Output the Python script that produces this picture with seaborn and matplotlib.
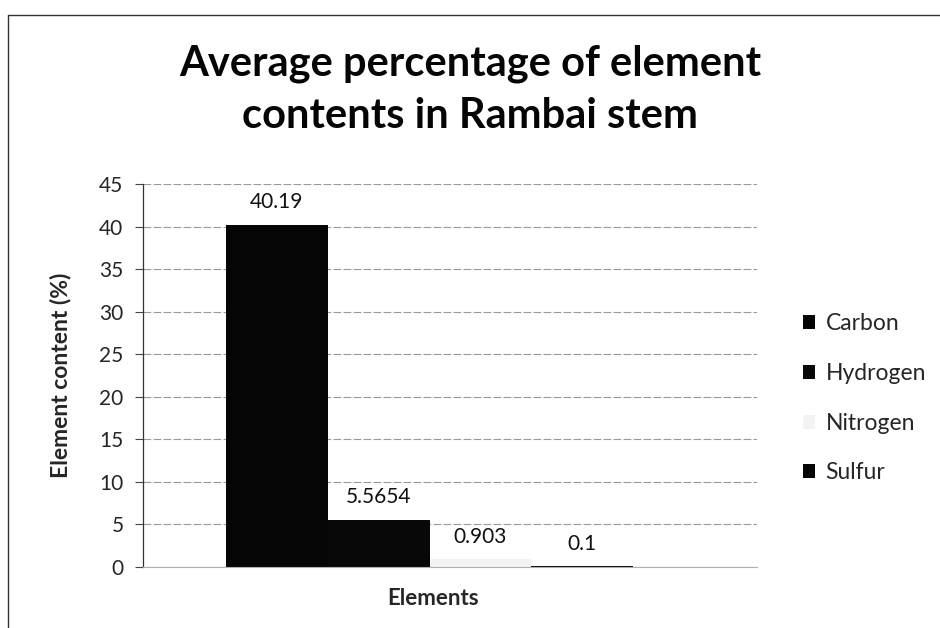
import matplotlib
matplotlib.use("Agg")
import matplotlib.pyplot as plt
import seaborn as sns
import pandas as pd
from matplotlib.lines import Line2D

elements = ["Carbon", "Hydrogen", "Nitrogen", "Sulfur"]
contents = [40.19, 5.5654, 0.903, 0.1]
value_labels = ["40.19", "5.5654", "0.903", "0.1"]
bar_colors = ["#050505", "#080808", "#f3f3f3", "#060606"]
y_ticks = [0, 5, 10, 15, 20, 25, 30, 35, 40, 45]

df = pd.DataFrame({"group": [""] * len(elements), "element": elements, "content": contents})

sns.set_theme(style="white")
plt.rcParams["font.family"] = ["Lato", "DejaVu Sans"]

fig = plt.figure(figsize=(9.4, 6.28), dpi=100)
ax = fig.add_axes([0.152, 0.0971, 0.653, 0.610])

sns.barplot(data=df, x="group", y="content", hue="element", hue_order=elements,
            palette=bar_colors, width=0.663, ax=ax, saturation=1, linewidth=0,
            legend=True)

ax.set_xlim(-0.467, 0.533)
ax.set_ylim(0, 45)
ax.set_yticks(y_ticks)
ax.set_yticklabels([str(t) for t in y_ticks], fontsize=15)
ax.set_xticks([])
ax.tick_params(axis="y", direction="out", length=6, width=0.8, color="#444444", pad=8, left=True)

ax.yaxis.grid(True, color="#9a9a9a", linewidth=0.8, linestyle=(0, (7, 2)))
ax.set_axisbelow(True)
for side in ["top", "right"]:
    ax.spines[side].set_visible(False)
ax.spines["left"].set_color("#333333")
ax.spines["left"].set_linewidth(0.9)
ax.spines["bottom"].set_color("#b0b0b0")
ax.spines["bottom"].set_linewidth(0.8)

for container, lab in zip(ax.containers, value_labels):
    ax.bar_label(container, labels=[lab], padding=9, fontsize=15, color="#111111")

ax.set_ylabel("Element content (%)", fontsize=16.5, fontweight="bold")
ax.yaxis.set_label_coords(-0.117, 0.5)
ax.set_xlabel("Elements", fontsize=16, fontweight="bold")
ax.xaxis.set_label_coords(0.472, -0.055)

handles = [plt.Rectangle((0, 0), 1, 1, facecolor=c, edgecolor="none") for c in bar_colors]
ax.legend(handles, elements, frameon=False, loc="center left",
          bbox_to_anchor=(1.06, 0.44), fontsize=16.5, handlelength=0.55, handleheight=0.55,
          handletextpad=0.45, labelspacing=1.25, borderaxespad=0)

fig.text(0.5, 0.857, "Average percentage of element\ncontents in Rambai stem",
         ha="center", va="center", fontsize=30, fontweight="bold", linespacing=1.45,
         color="#050505")

# outer chart frame
fig.add_artist(Line2D([0.0085, 0.0085], [0.0, 0.976], transform=fig.transFigure,
                      color="#333333", linewidth=1.0))
fig.add_artist(Line2D([0.0085, 1.0], [0.976, 0.976], transform=fig.transFigure,
                      color="#333333", linewidth=1.0))

fig.savefig("out.png", dpi=100, facecolor="white")
